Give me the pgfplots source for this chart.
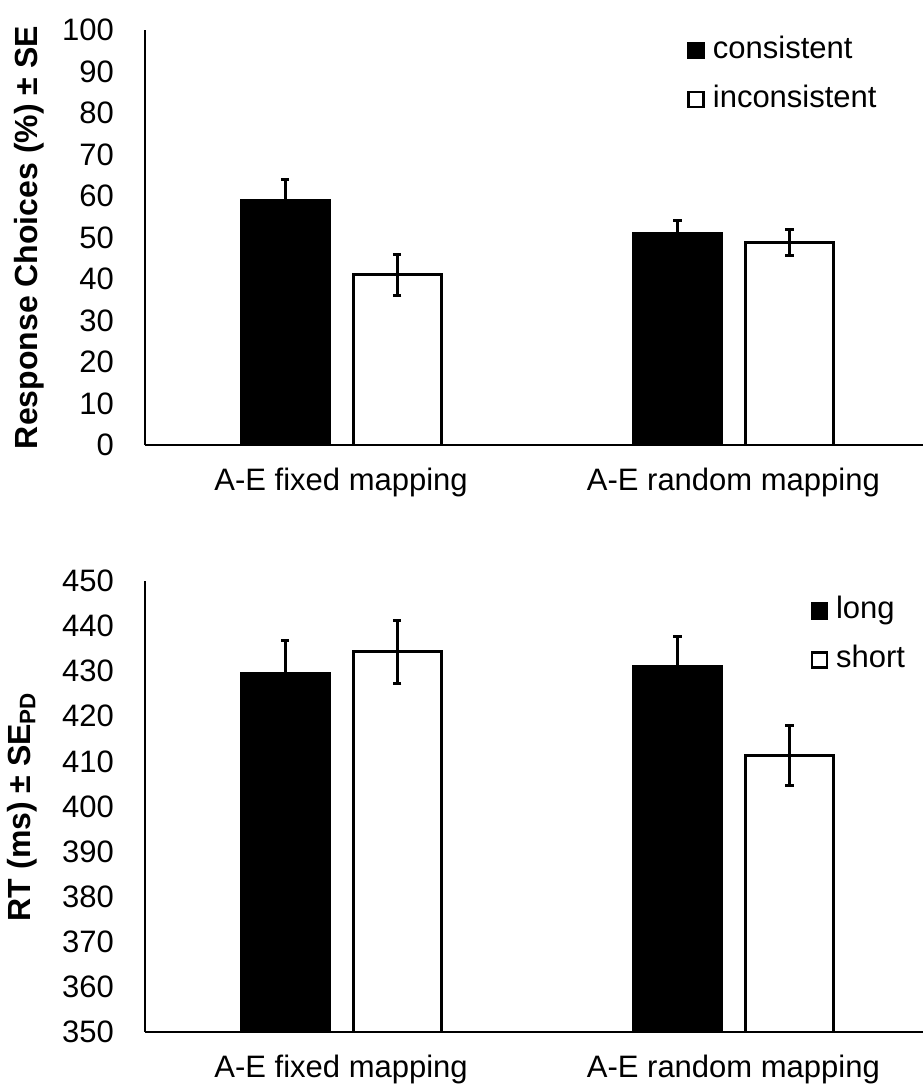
\documentclass[border=0pt]{standalone}
\usepackage{pgfplots}
\pgfplotsset{compat=1.18}
\usepackage{fontspec}
\setmainfont{Liberation Sans}
\newcommand{\f}{\fontsize{15.5}{18}\selectfont}
\pgfplotsset{
  common/.style={
    width=392.25pt, scale only axis,
    xmin=-0.5, xmax=1.5, xtick={0,1},
    xticklabels={A-E fixed mapping, A-E random mapping},
    axis x line*=bottom, axis y line*=left,
    axis line style={line width=1.2pt, -},
    major tick length=0pt,
    tick label style={font=\f},
    /pgf/number format/assume math mode=true,
    y tick label style={xshift=-12pt},
    x tick label style={yshift=-8pt},
    ylabel style={anchor=center, font=\bfseries\fontsize{16}{19}\selectfont},
    legend style={draw=none, fill=none, font=\f, anchor=north west, inner sep=0pt,
      legend cell align=left, row sep=8pt,
      /tikz/every odd column/.append style={column sep=3pt},
      nodes={inner sep=1pt, text height=11pt, text depth=3.5pt}},
  },
  barblack/.style={ybar, bar width=44pt, bar shift=0pt, fill=black, draw=black, line width=1.5pt,
    error bars/.cd, y dir=both, y explicit,
    error bar style={line width=1.5pt, black},
    error mark options={rotate=90, mark size=2.1pt, line width=1.5pt, black}},
  barwhite/.style={ybar, bar width=44pt, bar shift=0pt, fill=white, draw=black, line width=1.5pt,
    error bars/.cd, y dir=both, y explicit,
    error bar style={line width=1.5pt, black},
    error mark options={rotate=90, mark size=2.1pt, line width=1.5pt, black}},
  imgblack/.style={legend image code/.code={\draw[black,fill=black,line width=1.2pt] (0pt,-3.5pt) rectangle (7.5pt,4pt);}},
  imgwhite/.style={legend image code/.code={\draw[black,fill=white,line width=1.2pt] (0pt,-3.5pt) rectangle (7.5pt,4pt);}},
}
\begin{document}
\begin{tikzpicture}
\useasboundingbox (0,0) rectangle (461pt,-542.5pt);
% top panel
\begin{axis}[common,
  at={(72.5pt,-222.5pt)}, anchor=south west,
  height=207.5pt, ymin=0, ymax=100, ytick={0,10,...,100},
  ylabel={Response Choices (\%) ± SE},
  ylabel style={at={(axis description cs:-0.147,0.5)}},
  legend style={at={(axis description cs:0.691,0.990)}},
]
\addlegendimage{imgblack}
\addlegendimage{imgwhite}
% x positions: category centre -/+ 0.1428 (bar offset)
\addplot[forget plot, barblack] table[x=x, y=y, y error=e] {
x y e
-0.1428 59 5
0.8572 51 3.2
};
\addplot[forget plot, barwhite] table[x=x, y=y, y error=e] {
x y e
0.1428 41 5
1.1428 48.8 3.2
};
\legend{consistent, inconsistent}
\end{axis}
% bottom panel
\begin{axis}[common,
  at={(72.5pt,-516pt)}, anchor=south west,
  height=225.5pt, ymin=350, ymax=450, ytick={350,360,...,450},
  ylabel={RT (ms) ± SE\textsubscript{PD}},
  ylabel style={at={(axis description cs:-0.157,0.5)}},
  legend style={at={(axis description cs:0.848,0.970)}},
]
\addlegendimage{imgblack}
\addlegendimage{imgwhite}
\addplot[forget plot, barblack] table[x=x, y=y, y error=e] {
x y e
-0.1428 429.5 7.4
0.8572 431 6.8
};
\addplot[forget plot, barwhite] table[x=x, y=y, y error=e] {
x y e
0.1428 434.3 7
1.1428 411.3 6.6
};
\legend{long, short}
\end{axis}
\end{tikzpicture}
\end{document}
